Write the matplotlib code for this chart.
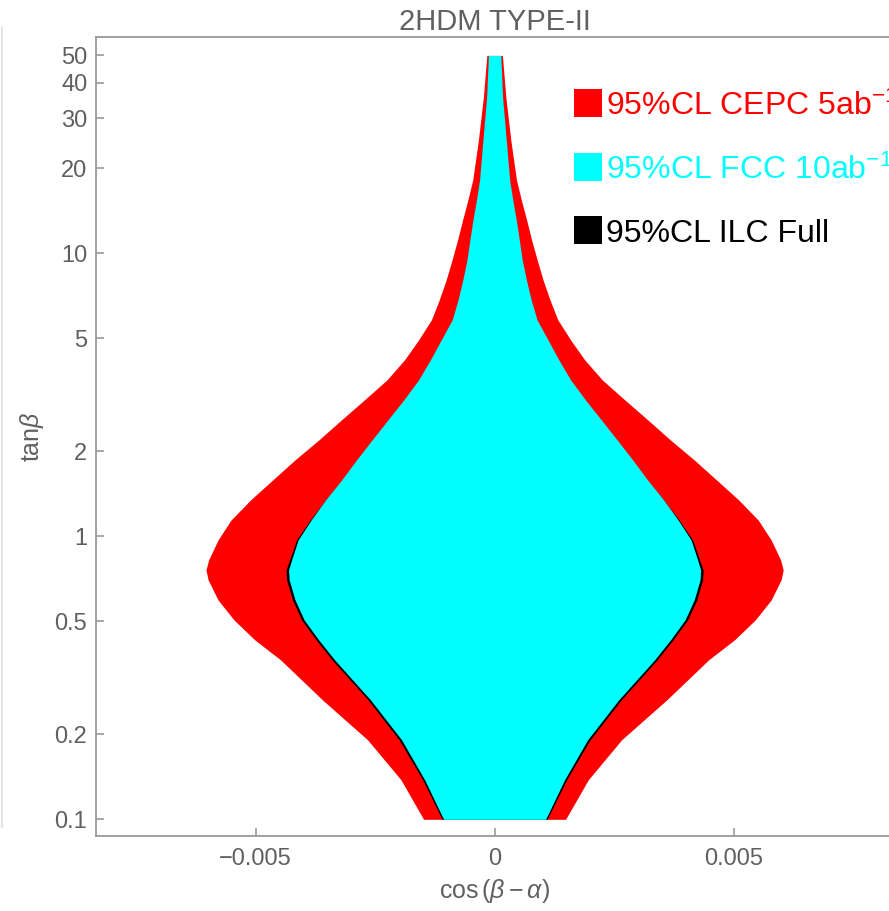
import matplotlib
matplotlib.use("Agg")
import matplotlib.pyplot as plt
from matplotlib.patches import Rectangle
from matplotlib.lines import Line2D
import numpy as np

plt.rcParams['font.family'] = ['Liberation Sans', 'DejaVu Sans']
plt.rcParams['mathtext.fontset'] = 'custom'
plt.rcParams['mathtext.rm'] = 'Liberation Sans'
plt.rcParams['mathtext.it'] = 'Liberation Sans:italic'

# tan(beta) sample points and half-widths (x1e-3) of the allowed cos(beta-alpha) band
tanb = [0.1, 0.138, 0.191, 0.264, 0.366, 0.431, 0.507, 0.596, 0.702, 0.76, 0.824,
        0.970, 1.14, 1.344, 1.58, 1.862, 2.19, 2.58, 3.03, 3.57, 4.21, 4.94,
        5.82, 6.85, 8.05, 9.49, 11.15, 13.1, 15.4, 18.2, 25.1, 35.7, 50]
cepc_hw = [1.485, 1.960, 2.657, 3.598, 4.477, 5.020, 5.454, 5.785, 5.992, 6.036, 5.983,
           5.785, 5.515, 5.105, 4.644, 4.174, 3.676, 3.201, 2.726, 2.251, 1.880, 1.590,
           1.322, 1.157, 1.013, 0.889, 0.774, 0.670, 0.560, 0.456, 0.339, 0.234, 0.163]
fcc_hw = [1.067, 1.464, 1.946, 2.594, 3.347, 3.682, 3.985, 4.174, 4.297, 4.310, 4.247,
          4.111, 3.841, 3.536, 3.201, 2.887, 2.563, 2.230, 1.902, 1.590, 1.340, 1.117,
          0.887, 0.764, 0.665, 0.577, 0.517, 0.454, 0.381, 0.314, 0.245, 0.167, 0.130]
ilc_hw = [1.098, 1.506, 1.998, 2.646, 3.400, 3.735, 4.038, 4.228, 4.351, 4.362, 4.289,
          4.142, 3.860, 3.536, 3.180, 2.870, 2.540, 2.210, 1.880, 1.570, 1.320, 1.100,
          0.870, 0.750, 0.650, 0.565, 0.505, 0.445, 0.370, 0.305, 0.238, 0.160, 0.125]

labels = ["95%CL CEPC 5ab$^{-1}$", "95%CL FCC 10ab$^{-1}$", "95%CL ILC Full"]
colors = ["#ff0000", "#00ffff", "#000000"]

ytick_vals = [0.1, 0.2, 0.5, 1, 2, 5, 10, 20, 30, 40, 50]
ytick_labels = ["0.1", "0.2", "0.5", "1", "2", "5", "10", "20", "30", "40", "50"]
xtick_vals = [-0.005, 0, 0.005]
xtick_labels = ["\u22120.005", "0", "0.005"]

W, H = 889, 911
fig = plt.figure(figsize=(W / 100, H / 100), dpi=100)
ax = fig.add_axes([95.7 / W, 1 - 835.7 / H, 797.8 / W, 798.7 / H])

y = np.array(tanb)
for hw, c in zip([cepc_hw, ilc_hw, fcc_hw], [colors[0], colors[2], colors[1]]):
    hw = np.array(hw) * 1e-3
    ax.fill_betweenx(y, -hw, hw, color=c, linewidth=0)

ax.set_yscale('log')
ax.set_xlim(-0.008343, 0.008343)
ax.set_ylim(0.0875, 58.1)

grey = '#999999'
txt = '#606060'
for s in ax.spines.values():
    s.set_color(grey)
    s.set_linewidth(1.3)

ax.yaxis.set_major_locator(matplotlib.ticker.FixedLocator(ytick_vals))
ax.yaxis.set_minor_locator(matplotlib.ticker.NullLocator())
ax.set_yticklabels(ytick_labels)
ax.set_xticks(xtick_vals)
ax.set_xticklabels(xtick_labels)
ax.tick_params(direction='in', length=6, width=1.2, color=grey,
               labelcolor=txt, labelsize=17, pad=6)
ax.tick_params(axis='x', pad=9)

ax.set_title("2HDM TYPE-II", color=txt, fontsize=21, pad=5)
ax.set_xlabel(r"cos$\,(\beta-\alpha)$", color=txt, fontsize=18, labelpad=5)
ax.set_ylabel(r"tan$\beta$", color=txt, fontsize=18, labelpad=6)

# legend: colored squares with matching colored text
baselines = [115, 179, 242]
for lab, c, b in zip(labels, colors, baselines):
    fig.patches.append(Rectangle((574 / W, 1 - (b - 26) / H - 28 / H), 28 / W, 28 / H,
                                 transform=fig.transFigure, facecolor=c,
                                 edgecolor='none'))
    fig.text(606 / W, 1 - b / H, lab, color=c, fontsize=23, va='baseline', ha='left')

# faint frame line on the left border
fig.add_artist(Line2D([1.5 / W, 1.5 / W], [1 - 28 / H, 1 - 827 / H],
                      transform=fig.transFigure, color='#e4e4e4', linewidth=1.5))

fig.savefig("out.png", dpi=100)
